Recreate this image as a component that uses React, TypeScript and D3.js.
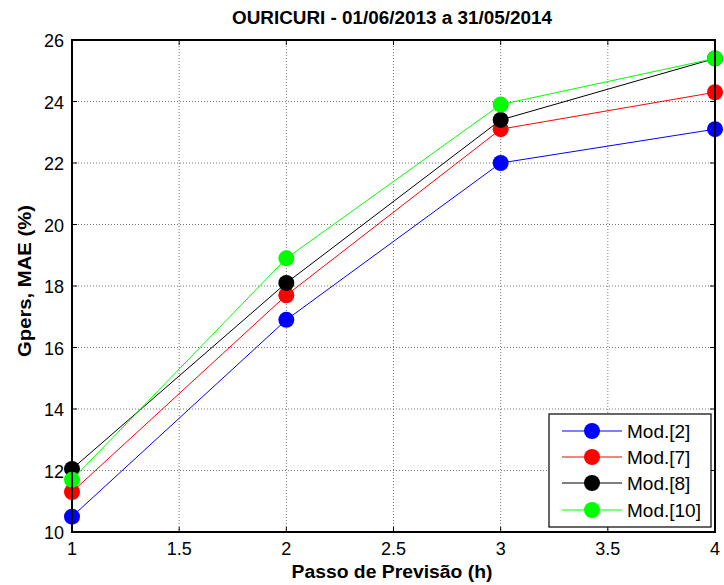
import React from "react";
import * as d3 from "d3";

const steps = [1, 2, 3, 4];
const seriesNames = ["Mod.[2]", "Mod.[7]", "Mod.[8]", "Mod.[10]"];
const seriesColors = ["#0000ff", "#ff0000", "#000000", "#00ff00"];
const mod2 = [10.5, 16.9, 22.0, 23.1];
const mod7 = [11.3, 17.7, 23.1, 24.3];
const mod8 = [12.05, 18.1, 23.4, 25.4];
const mod10 = [11.7, 18.9, 23.9, 25.4];
const xTicks = [1, 1.5, 2, 2.5, 3, 3.5, 4];
const yTicks = [10, 12, 14, 16, 18, 20, 22, 24, 26];

export default function App() {
  const W = 724, H = 585;
  const L = 72, R = 715, T = 40, B = 532;
  const x = d3.scaleLinear().domain([1, 4]).range([L, R]);
  const y = d3.scaleLinear().domain([10, 26]).range([B, T]);
  const series = [mod2, mod7, mod8, mod10];
  const line = d3.line<number>().x((_, i) => x(steps[i])).y((d) => y(d));
  const font = "'Liberation Sans', Arial, sans-serif";
  const lg = { x0: 549, y0: 414, x1: 711, y1: 527 };
  const rowY = [431, 457, 483, 510];
  return (
    <svg width={W} height={H} style={{ position: "absolute", left: 0, top: 0, background: "#fff" }} fontFamily={font}>
      <rect x={0} y={0} width={W} height={H} fill="#fff" />
      {xTicks.map((t) => (
        <line key={"gx" + t} x1={x(t)} x2={x(t)} y1={T} y2={B} stroke="#555" strokeWidth={0.8} strokeDasharray="1,2" />
      ))}
      {yTicks.map((t) => (
        <line key={"gy" + t} x1={L} x2={R} y1={y(t)} y2={y(t)} stroke="#555" strokeWidth={0.8} strokeDasharray="1,2" />
      ))}
      {xTicks.map((t) => (
        <g key={"tx" + t}>
          <line x1={x(t)} x2={x(t)} y1={B} y2={B - 5} stroke="#000" />
          <line x1={x(t)} x2={x(t)} y1={T} y2={T + 5} stroke="#000" />
          <text x={x(t)} y={B + 23} fontSize={18} textAnchor="middle">{t}</text>
        </g>
      ))}
      {yTicks.map((t) => (
        <g key={"ty" + t}>
          <line x1={L} x2={L + 5} y1={y(t)} y2={y(t)} stroke="#000" />
          <line x1={R} x2={R - 5} y1={y(t)} y2={y(t)} stroke="#000" />
          <text x={L - 8} y={y(t) + 7} fontSize={18} textAnchor="end">{t}</text>
        </g>
      ))}
      {series.map((s, k) => (
        <g key={"s" + k}>
          <path d={line(s) || ""} fill="none" stroke={seriesColors[k]} strokeWidth={1} />
          {s.map((v, i) => (
            <circle key={i} cx={x(steps[i])} cy={y(v)} r={8} fill={seriesColors[k]} />
          ))}
        </g>
      ))}
      <rect x={L} y={T} width={R - L} height={B - T} fill="none" stroke="#000" strokeWidth={2} />
      <rect x={lg.x0} y={lg.y0} width={lg.x1 - lg.x0} height={lg.y1 - lg.y0} fill="#fff" stroke="#000" strokeWidth={1.2} />
      {seriesNames.map((n, k) => (
        <g key={"lg" + k}>
          <line x1={562} x2={622} y1={rowY[k]} y2={rowY[k]} stroke={seriesColors[k]} strokeWidth={1} />
          <circle cx={592} cy={rowY[k]} r={8} fill={seriesColors[k]} />
          <text x={627} y={rowY[k] + 7} fontSize={19}>{n}</text>
        </g>
      ))}
      <text x={392} y={24} fontSize={18} fontWeight="bold" textAnchor="middle" textLength={320} lengthAdjust="spacingAndGlyphs">OURICURI - 01/06/2013 a 31/05/2014</text>
      <text x={392} y={578} fontSize={18} fontWeight="bold" textAnchor="middle" textLength={201} lengthAdjust="spacingAndGlyphs">Passo de Previsão (h)</text>
      <text transform={`translate(31,281) rotate(-90)`} fontSize={18} fontWeight="bold" textAnchor="middle" textLength={152} lengthAdjust="spacingAndGlyphs">Gpers, MAE (%)</text>
    </svg>
  );
}
